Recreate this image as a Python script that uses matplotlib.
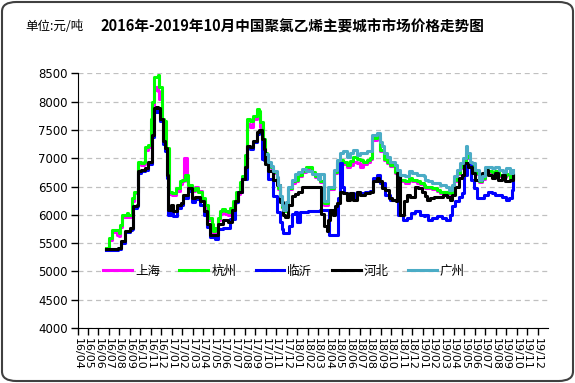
import numpy as np
import matplotlib
matplotlib.use("Agg")
import matplotlib.pyplot as plt
from matplotlib.patches import FancyBboxPatch

plt.rcParams['font.family'] = ['Noto Sans CJK SC', 'DejaVu Sans']

# x = months since 2016/04 (0 = 16/04)
tick_labels = [f"{y % 100}/{mo:02d}" for y in range(2016, 2020) for mo in range(1, 13)][3:]

sh_m = [2.73, 3.02, 3.27, 3.75, 3.97, 4.07, 4.29, 4.71, 4.86, 5.18, 5.44, 5.76, 6.08, 6.4, 6.46, 6.78,
        7.03, 7.16, 7.35, 7.5, 7.67, 7.83, 8.05, 8.28, 8.44, 8.76, 9.08, 9.43, 9.81, 10.03, 10.2, 10.35,
        10.45, 10.61, 10.93, 11.24, 11.56, 11.88, 12.2, 12.52, 12.84, 13.0, 13.16, 13.48, 13.64, 13.8,
        14.1, 14.4, 14.6, 14.9, 15.2, 15.5, 15.7, 16.0, 16.19, 16.5, 16.83, 17.14, 17.37, 17.5, 17.7,
        17.9, 18.1, 18.26, 18.5, 18.74, 19.06, 19.22, 19.38, 19.54, 19.7, 19.9, 20.18, 20.5, 20.81,
        21.13, 21.45, 21.9, 22.4, 22.7, 23.0, 23.2, 23.6, 24.0, 24.5, 24.8, 25.1, 25.44, 25.76, 26.07,
        26.39, 26.7, 27.0, 27.35, 27.67, 28.0, 28.15, 28.6, 28.95, 29.27, 29.6, 29.9, 30.4, 30.54,
        30.86, 31.3, 31.7, 32.0, 32.5, 32.8, 33.1, 33.25, 33.9, 34.4, 34.7, 35.2, 35.5, 35.65, 35.8,
        35.97, 36.3, 36.6, 36.9, 37.15, 37.3, 37.5, 37.7, 38.0, 38.4, 38.7, 39.0, 39.3, 39.6, 39.9,
        40.3, 40.7, 41.0, 41.4, 41.7]
sh_v = [5400, 5560, 5690, 5640, 5620, 5780, 5960, 5990, 5960, 6250, 6380, 6900, 6880, 6900, 7150, 7200,
        7650, 7900, 8200, 8250, 8180, 8050, 7650, 7600, 7150, 6360, 6350, 6420, 6550, 6600, 7000, 7000,
        6600, 6480, 6420, 6500, 6420, 6250, 6120, 5900, 5780, 5680, 5720, 5900, 6020, 6070,
        6020, 6000, 6080, 6200, 6370, 6550, 6650, 6980, 7600, 7560, 7700, 7800, 7750, 7550, 7300,
        7080, 7020, 6880, 6830, 6740, 6620, 6460, 6280, 6130, 6060, 6190, 6450, 6570, 6600,
        6680, 6760, 6820, 6730, 6670, 6680, 6580, 6180, 6450, 6740, 6900, 6940, 6900, 6850, 6880,
        6930, 6910, 6850, 6900, 6930, 6980, 7330, 7360, 7130, 6960, 6920, 6860, 6740, 6680,
        6600, 6570, 6630, 6600, 6570, 6540, 6510, 6480, 6450, 6420, 6390, 6390, 6360, 6370, 6460,
        6600, 6720, 6830, 6930, 7080, 7000, 6880, 6830, 6720, 6580, 6630, 6780, 6750, 6740, 6750,
        6680, 6660, 6700, 6610, 6700]

hz_m = [2.73, 3.02, 3.27, 3.75, 3.97, 4.07, 4.29, 4.71, 4.86, 5.18, 5.44, 5.76, 6.08, 6.4, 6.46, 6.78,
        7.03, 7.16, 7.35, 7.67, 7.83, 8.05, 8.28, 8.44, 8.76, 9.08, 9.43, 9.81, 10.03, 10.29, 10.61,
        10.93, 11.24, 11.56, 11.88, 12.2, 12.52, 12.84, 13.0, 13.16, 13.48, 13.64, 13.8, 14.1, 14.4,
        14.6, 14.9, 15.2, 15.5, 15.7, 16.0, 16.19, 16.5, 16.83, 17.14, 17.37, 17.5, 17.7, 17.9, 18.1,
        18.26, 18.5, 18.74, 19.06, 19.22, 19.38, 19.54, 19.7, 19.9, 20.18, 20.5, 20.81, 21.13, 21.45,
        21.9, 22.4, 22.7, 23.0, 23.2, 23.6, 24.0, 24.5, 24.8, 25.1, 25.44, 25.76, 26.07, 26.39, 26.7,
        27.0, 27.35, 27.67, 28.0, 28.15, 28.6, 28.95, 29.27, 29.6, 29.9, 30.4, 30.54, 30.86, 31.3,
        31.7, 32.0, 32.5, 32.8, 33.1, 33.25, 33.9, 34.4, 34.7, 35.2, 35.5, 35.65, 35.8, 35.97, 36.3,
        36.6, 36.9, 37.15, 37.3, 37.5, 37.7, 38.0, 38.4, 38.7, 39.0, 39.3, 39.6, 39.9, 40.3, 40.7,
        41.0, 41.4, 41.7]
hz_v = [5413, 5590, 5725, 5730, 5680, 5825, 6000, 6030, 6000, 6295, 6410, 6940, 6910, 6940, 7200, 7240,
        7700, 8000, 8440, 8470, 8265, 7700, 7650, 7180, 6410, 6380, 6470, 6590, 6620, 6710, 6530,
        6440, 6470, 6410, 6300, 6180, 5940, 5830, 5710, 5760, 5940, 6060, 6110, 6060, 6050,
        6120, 6240, 6400, 6580, 6690, 7050, 7690, 7650, 7750, 7870, 7840, 7640, 7340, 7100, 7050,
        6900, 6850, 6760, 6640, 6480, 6300, 6140, 6070, 6200, 6470, 6590, 6620, 6700, 6780,
        6840, 6750, 6690, 6700, 6600, 6200, 6480, 6760, 6940, 6960, 6930, 6880, 6950, 7020, 6990,
        6960, 6940, 6960, 7000, 7350, 7380, 7150, 6980, 6940, 6880, 6760, 6700, 6620, 6590,
        6650, 6620, 6590, 6560, 6530, 6500, 6470, 6440, 6410, 6410, 6380, 6390, 6480, 6620, 6740,
        6850, 6950, 7100, 7020, 6900, 6850, 6740, 6600, 6650, 6800, 6770, 6760, 6770, 6700, 6680,
        6720, 6630, 6720]

ly_m = [2.75, 3.9, 4.2, 4.55, 5.0, 5.2, 5.35, 5.65, 5.82, 6.1, 6.46, 6.78, 7.1, 7.35, 7.5, 7.67, 7.89,
        8.2, 8.37, 8.53, 8.69, 8.95, 9.17, 9.49, 9.9, 10.13, 10.54, 10.93, 11.24, 11.72, 12.14, 12.36,
        12.68, 13.16, 13.48, 13.96, 14.4, 14.6, 15.07, 15.39, 15.71, 16.19, 16.5, 16.83, 17.14, 17.37,
        17.63, 17.79, 18.26, 18.74, 19.06, 19.38, 19.54, 19.7, 20.02, 20.24, 20.5, 20.81, 20.97, 21.29,
        22.0, 22.8, 23.2, 23.85, 24.1, 24.6, 24.9, 25.12, 25.3, 25.5, 25.8, 26.1, 26.4, 26.7, 27.04,
        27.5, 28.0, 28.3, 28.6, 28.97, 29.43, 29.9, 30.4, 30.7, 31.1, 31.5, 31.9, 32.3, 32.8, 33.1,
        33.25, 33.57, 33.9, 34.4, 34.9, 35.2, 35.5, 35.65, 35.8, 36.1, 36.44, 36.76, 37.0, 37.25, 37.6,
        37.9, 38.2, 38.5, 38.9, 39.3, 39.6, 39.9, 40.3, 40.6, 41.0, 41.3, 41.6, 41.7]
ly_v = [5380, 5390, 5500, 5690, 5740, 5750, 6120, 6150, 6740, 6770, 6800, 6900, 7380, 7820, 7830, 7820, 7650,
        7250, 7120, 6650, 6000, 6100, 5980, 6120, 6180, 6300, 6420, 6220, 6280, 6180, 6000, 5780,
        5600, 5580, 5750, 5760, 5760, 5930, 6220, 6400, 6640, 7190, 7170, 7290, 7420, 7460,
        6990, 6960, 6640, 6340, 6050, 5870, 5750, 5670, 5670, 5810, 6020, 6050, 5870, 6050,
        6060, 6060, 6080, 6080, 5650, 5650, 6300, 6920, 6500, 6380, 6300, 6380, 6300, 6400, 6380,
        6400, 6420, 6650, 6710, 6560, 6350, 6270, 6270, 6000, 5910, 5940, 6030, 6060, 6000, 5970,
        6000, 5910, 5940, 5970, 5940, 5910, 5910, 6000, 6150, 6240, 6320, 6380, 6700, 6910, 6620,
        6470, 6290, 6290, 6350, 6410, 6380, 6350, 6350, 6320, 6260, 6290, 6440, 6700]

hb_m = [2.75, 3.9, 4.2, 4.55, 5.0, 5.2, 5.35, 5.65, 5.82, 6.1, 6.46, 6.78, 7.1, 7.35, 7.5, 7.67, 7.89,
        8.2, 8.37, 8.53, 8.69, 8.95, 9.17, 9.49, 9.9, 10.13, 10.54, 10.93, 11.24, 11.72, 12.14, 12.36,
        12.68, 13.16, 13.48, 13.96, 14.4, 14.75, 15.07, 15.39, 15.71, 16.03, 16.19, 16.5, 16.83, 17.14,
        17.37, 17.6, 17.79, 17.94, 18.26, 18.74, 19.06, 19.38, 19.7, 19.86, 20.18, 20.56, 20.8, 21.13,
        21.45, 22.09, 22.72, 23.11, 23.3, 23.53, 23.85, 24.0, 24.16, 24.42, 24.64, 24.8, 25.12, 25.44,
        25.76, 26.07, 26.39, 26.72, 27.04, 27.5, 28.0, 28.3, 28.63, 28.88, 29.1, 29.43, 29.75, 30.07,
        30.48, 30.54, 30.8, 31.18, 31.5, 31.8, 32.3, 32.6, 32.94, 33.25, 33.4, 33.73, 34.05, 34.37,
        34.69, 35.0, 35.33, 35.65, 35.8, 36.12, 36.44, 36.76, 37.0, 37.2, 37.37, 37.7, 38.0, 38.33,
        38.65, 38.97, 39.29, 39.61, 39.93, 40.25, 40.57, 40.89, 41.37, 41.7]
hb_v = [5400, 5410, 5530, 5710, 5770, 5770, 6150, 6180, 6770, 6800, 6830, 6940, 7410, 7880, 7910, 7890, 7700,
        7300, 7180, 6700, 6090, 6180, 6060, 6180, 6210, 6350, 6480, 6300, 6320, 6240, 6060, 5830,
        5650, 5650, 5840, 5900, 5870, 6080, 6250, 6400, 6640, 6840, 7220, 7190, 7310, 7460,
        7490, 7340, 7170, 6900, 6780, 6610, 6520, 6220, 5990, 5960, 6170, 6340, 6370, 6400,
        6490, 6490, 6490, 6490, 6020, 5800, 5710, 5910, 6090, 5990, 6150, 6210, 6410, 6380,
        6270, 6380, 6270, 6410, 6350, 6380, 6410, 6590, 6650, 6590, 6470, 6440, 6300, 6270,
        6240, 6740, 6000, 6240, 6350, 6320, 6500, 6470, 6410, 6330, 6270, 6290, 6320, 6320,
        6320, 6350, 6320, 6260, 6350, 6500, 6650, 6710, 6910, 6910, 6850, 6740, 6620, 6620,
        6740, 6790, 6710, 6650, 6740, 6620, 6710, 6590, 6620, 6710]

gz_m = [18.1, 18.26, 18.5, 18.74, 19.06, 19.22, 19.38, 19.54, 19.7, 19.9, 20.18, 20.5, 20.81, 21.13,
        21.45, 21.9, 22.4, 22.7, 23.0, 23.2, 23.6, 24.0, 24.5, 24.8, 25.1, 25.44, 25.76, 26.07, 26.39,
        26.7, 27.0, 27.35, 27.67, 28.0, 28.15, 28.6, 28.95, 29.1, 29.27, 29.6, 29.9, 30.4, 30.54,
        30.86, 31.3, 31.7, 32.0, 32.5, 32.8, 33.1, 33.25, 33.57, 33.9, 34.4, 34.7, 35.2, 35.5, 35.65,
        35.8, 35.97, 36.3, 36.6, 36.9, 37.15, 37.3, 37.5, 37.7, 38.0, 38.4, 38.7, 39.0, 39.3, 39.6,
        39.9, 40.3, 40.7, 41.0, 41.4, 41.7]
gz_v = [7080, 6930, 6870, 6780, 6670, 6520, 6340, 6170, 6080, 6220, 6490, 6610, 6720, 6750,
        6810, 6780, 6720, 6720, 6640, 6720, 6240, 6500, 6790, 6970, 7090, 7120, 7030, 7090, 7150,
        7060, 7090, 7090, 7120, 7120, 7410, 7440, 7290, 7210, 7090, 7030, 6940, 6880, 6790,
        6710, 6680, 6770, 6740, 6710, 6710, 6680, 6620, 6590, 6560, 6560, 6530, 6500, 6440, 6440,
        6530, 6680, 6790, 6910, 7000, 7210, 7090, 6940, 6910, 6790, 6620, 6680, 6850, 6850, 6820,
        6850, 6790, 6760, 6820, 6740, 6790]

series = [
    ("上海", sh_m, sh_v, "#FF00FF"),
    ("杭州", hz_m, hz_v, "#00FF00"),
    ("临沂", ly_m, ly_v, "#0000FF"),
    ("河北", hb_m, hb_v, "#000000"),
    ("广州", gz_m, gz_v, "#4BACC6"),
]

W, H = 575, 383
fig = plt.figure(figsize=(W / 100, H / 100), dpi=100)
fig.patch.set_facecolor("white")

# rounded frame around the whole picture
frame = FancyBboxPatch((2 / W, 2 / H), 1 - 4 / W, 1 - 4 / H,
                       boxstyle="round,pad=0,rounding_size=0.025",
                       transform=fig.transFigure, fill=False,
                       edgecolor="#404040", linewidth=1.5)
fig.patches.append(frame)

ax = fig.add_axes([77.5 / W, 1 - 328 / H, (548 - 77.5) / W, (328 - 73.3) / H])

# weekly quotes -> stair-like lines
for name, m, v, c in series:
    ax.plot(m, v, color=c, lw=2.2, label=name, drawstyle="steps-post")

ax.set_xlim(0, 45)
ax.set_ylim(4000, 8500)
ax.set_yticks(np.arange(4000, 8501, 500))
ax.yaxis.grid(True, linestyle=(0, (4, 3)), color="#C0C0C0", lw=0.9)
ax.set_axisbelow(True)
ax.set_xticks(np.arange(len(tick_labels)))
ax.set_xticklabels(tick_labels, rotation=-90, fontsize=8, family="DejaVu Sans")
ax.tick_params(axis="y", labelsize=8.5, length=5, width=1, pad=2)
ax.tick_params(axis="x", length=5, width=1, pad=2)
for lab in ax.get_yticklabels():
    lab.set_family("DejaVu Sans")
ax.spines["top"].set_visible(False)
ax.spines["right"].set_visible(False)

ax.legend(loc="center left", bbox_to_anchor=(103 / W, 1 - 271 / H), bbox_transform=fig.transFigure,
          ncol=5, frameon=False, fontsize=9, handlelength=2.3, handletextpad=0.25,
          columnspacing=1.55, borderpad=0, borderaxespad=0)

fig.text(25 / W, 1 - 27 / H, "单位:元/吨", fontsize=9, va="center", ha="left")
fig.text(100 / W, 1 - 27 / H, "2016年-2019年10月中国聚氯乙烯主要城市市场价格走势图",
         fontsize=10.5, fontweight="bold", va="center", ha="left")

fig.savefig("out.png", dpi=100)
